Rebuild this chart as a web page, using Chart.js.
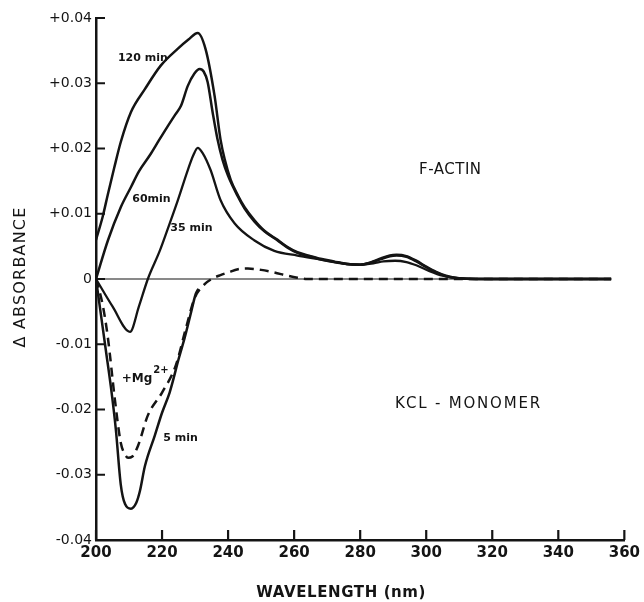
<!DOCTYPE html>
<html>
<head>
<meta charset="utf-8">
<script src="https://cdn.jsdelivr.net/npm/chart.js@4.4.0/dist/chart.umd.min.js"></script>
<style>
html,body{margin:0;padding:0;background:#fff;}
#wrap{width:644px;height:602px;}
</style>
</head>
<body>
<div id="wrap"><canvas id="c" width="644" height="602"></canvas></div>
<script>
// ---- axis ticks ----
const xTicks = [200, 220, 240, 260, 280, 300, 320, 340, 360];
const yTicks = [0.04, 0.03, 0.02, 0.01, 0, -0.01, -0.02, -0.03, -0.04];
const yTickLabels = ['+0.04', '+0.03', '+0.02', '+0.01', '0', '-0.01', '-0.02', '-0.03', '-0.04'];

// ---- 120 min ----
const wl120 = [200, 202, 203.6, 205.5, 207.5, 210.6, 214.8, 219.6, 224.8, 228, 230.8, 233.2, 235.9, 237.7, 239, 240.8, 243, 245, 248, 251, 255, 258, 261, 265, 268, 272, 276, 280, 283, 286, 289, 291, 294, 297, 300, 303, 306, 310, 315, 320, 356];
const abs120 = [0.006, 0.0095, 0.013, 0.017, 0.0210, 0.0256, 0.0291, 0.0327, 0.0353, 0.0367, 0.0377, 0.0352, 0.0281, 0.0214, 0.0183, 0.0152, 0.0128, 0.0110, 0.0090, 0.0074, 0.0060, 0.0049, 0.0041, 0.0035, 0.0031, 0.0027, 0.0023, 0.0022, 0.0025, 0.0031, 0.0036, 0.0037, 0.0035, 0.0028, 0.0019, 0.0011, 0.0005, 0.0001, 0, 0, 0];

// ---- 60 min ----
const wl60 = [200, 203.6, 207.5, 210.6, 213, 216.6, 219, 221.7, 224, 225.7, 227.8, 229.8, 231.4, 232.6, 233.8, 235.3, 236.8, 238.3, 240, 243, 245, 248, 251, 255, 258, 261, 265, 268, 272, 276, 280, 283, 286, 289, 291, 294, 297, 300, 303, 306, 310, 315, 320, 356];
const abs60 = [0, 0.0059, 0.0110, 0.0141, 0.0165, 0.0192, 0.0212, 0.0234, 0.0252, 0.0265, 0.0296, 0.0315, 0.0322, 0.0318, 0.0302, 0.0256, 0.0214, 0.0183, 0.0158, 0.0126, 0.0108, 0.0088, 0.0073, 0.0059, 0.0048, 0.0040, 0.0034, 0.0030, 0.0026, 0.0023, 0.0022, 0.0025, 0.0030, 0.0035, 0.0036, 0.0034, 0.0027, 0.0018, 0.0010, 0.0004, 0.0001, 0, 0, 0];

// ---- 35 min ----
const wl35 = [200, 205, 210.3, 213, 215.7, 219.3, 222.3, 224.8, 227.8, 229.5, 230.8, 232.3, 234.7, 237.7, 242, 248, 254, 261, 268, 276, 280, 284, 287, 290.6, 294, 297, 301, 305, 310, 320, 356];
const abs35 = [0, -0.0042, -0.0081, -0.0042, 0, 0.0043, 0.0085, 0.0121, 0.0167, 0.0190, 0.0201, 0.0193, 0.0167, 0.0121, 0.0085, 0.0059, 0.0043, 0.0036, 0.0030, 0.0023, 0.0022, 0.0024, 0.0027, 0.0028, 0.0026, 0.0021, 0.0012, 0.0005, 0.0001, 0, 0];

// ---- 5 min ----
const wl5 = [200, 201.5, 203, 204.5, 206, 207.5, 208.8, 210.6, 212.2, 213.3, 214.8, 217.8, 220, 222.3, 223.2, 225, 226.8, 228.5, 230.2, 231];
const abs5 = [0, -0.0055, -0.0110, -0.0165, -0.0230, -0.0315, -0.0345, -0.0352, -0.0343, -0.0325, -0.0287, -0.0240, -0.0205, -0.0174, -0.0158, -0.0123, -0.0091, -0.0057, -0.0023, -0.0015];

// ---- +Mg2+ (dashed) ----
const wlMg = [200, 202, 203.6, 205.7, 207.5, 208.7, 209.7, 211, 212.7, 215.7, 220, 224.2, 227.2, 229.9, 232.9, 235, 237.7, 240, 243, 246, 250, 254, 258, 261, 264, 270, 356];
const absMg = [0, -0.0039, -0.0090, -0.0184, -0.0251, -0.0268, -0.0274, -0.0272, -0.0256, -0.0209, -0.0174, -0.0132, -0.0076, -0.0029, -0.0008, 0.0, 0.0006, 0.0010, 0.0015, 0.0016, 0.0014, 0.0010, 0.0005, 0.0002, 0, 0, 0];

// ---- zero baseline ----
const wlZero = [200, 356];
const absZero = [0, 0];

const pts = (xs, ys) => xs.map((x, i) => ({x: x, y: ys[i]}));

const INK = '#141414';
const FONT = '"DejaVu Sans", sans-serif';

// axis titles
const xTitle = 'WAVELENGTH (nm)';
const yTitle = 'Δ ABSORBANCE';

// text annotations, anchored in data coordinates
const notes = [
  {text: '120 min', x: 214.2, y: 0.0339, font: 'bold 11px ' + FONT},
  {text: '60min', x: 216.8, y: 0.0123, font: 'bold 11px ' + FONT},
  {text: '35 min', x: 228.9, y: 0.0078, font: 'bold 11px ' + FONT},
  {text: '5 min', x: 225.6, y: -0.0244, font: 'bold 11px ' + FONT},
  {text: 'F-ACTIN', x: 307.3, y: 0.0167, font: '15px ' + FONT, spacing: '0.5px'},
  {text: 'KCL - MONOMER', x: 312.8, y: -0.0192, font: '15px ' + FONT, spacing: '1.8px'}
];
const mgNote = {base: '+Mg', sup: '2+', x: 207.8, y: -0.0153, supY: -0.0140};

const inwardTicks = {
  id: 'inwardTicks',
  afterDraw(chart) {
    const {ctx, chartArea: a, scales: {x, y}} = chart;
    ctx.save();
    ctx.strokeStyle = INK;
    ctx.lineWidth = 2.2;
    ctx.beginPath();
    xTicks.forEach(v => {
      const px = x.getPixelForValue(v);
      ctx.moveTo(px, a.bottom);
      ctx.lineTo(px, a.bottom - 10);
    });
    yTicks.forEach(v => {
      const py = y.getPixelForValue(v);
      ctx.moveTo(a.left, py);
      ctx.lineTo(a.left + 9, py);
    });
    ctx.stroke();
    ctx.restore();
  }
};

const textNotes = {
  id: 'textNotes',
  afterDraw(chart) {
    const {ctx, chartArea: a, scales: {x, y}} = chart;
    const hasLS = 'letterSpacing' in ctx;
    ctx.save();
    ctx.fillStyle = INK;
    ctx.textBaseline = 'middle';
    notes.forEach(n => {
      ctx.font = n.font;
      ctx.textAlign = 'center';
      if (hasLS) ctx.letterSpacing = n.spacing || '0px';
      ctx.fillText(n.text, x.getPixelForValue(n.x), y.getPixelForValue(n.y));
    });
    if (hasLS) ctx.letterSpacing = '0px';
    ctx.textAlign = 'left';
    ctx.font = 'bold 12px ' + FONT;
    const bx = x.getPixelForValue(mgNote.x);
    ctx.fillText(mgNote.base, bx, y.getPixelForValue(mgNote.y));
    const w = ctx.measureText(mgNote.base).width;
    ctx.font = 'bold 10px ' + FONT;
    ctx.fillText(mgNote.sup, bx + w + 1, y.getPixelForValue(mgNote.supY));

    // x axis title
    ctx.textAlign = 'center';
    ctx.font = 'bold 15px ' + FONT;
    if (hasLS) ctx.letterSpacing = '0.6px';
    ctx.fillText(xTitle, (a.left + a.right) / 2 - 19, a.bottom + 53);
    // y axis title
    ctx.font = '16px ' + FONT;
    if (hasLS) ctx.letterSpacing = '1.2px';
    ctx.translate(21, (a.top + a.bottom) / 2 - 2);
    ctx.rotate(-Math.PI / 2);
    ctx.fillText(yTitle, 0, 0);
    ctx.restore();
  }
};

const solid = (label, data, w) => ({
  label: label, data: data, borderColor: INK, borderWidth: w, pointRadius: 0,
  fill: false, cubicInterpolationMode: 'monotone', tension: 0.4
});

new Chart(document.getElementById('c'), {
  type: 'line',
  data: {
    datasets: [
      solid('baseline', pts(wlZero, absZero), 1.1),
      solid('120 min', pts(wl120, abs120), 2.5),
      solid('60 min', pts(wl60, abs60), 2.5),
      solid('35 min', pts(wl35, abs35), 2.3),
      solid('5 min', pts(wl5, abs5), 2.5),
      Object.assign(solid('+Mg2+', pts(wlMg, absMg), 2.5), {borderDash: [9, 6]})
    ]
  },
  options: {
    responsive: false,
    animation: false,
    devicePixelRatio: 1,
    layout: {padding: {top: 18, right: 16, left: 0, bottom: 0}},
    plugins: {legend: {display: false}, tooltip: {enabled: false}},
    scales: {
      x: {
        type: 'linear', min: 200, max: 360,
        afterBuildTicks: s => { s.ticks = xTicks.map(v => ({value: v})); },
        afterFit: s => { s.height = 62; },
        grid: {display: false, drawTicks: false},
        border: {display: true, color: INK, width: 2.5},
        ticks: {color: INK, padding: 4, maxRotation: 0, autoSkip: false,
                font: {family: FONT, size: 15, weight: 'bold'}},
        title: {display: false}
      },
      y: {
        type: 'linear', min: -0.04, max: 0.04,
        afterBuildTicks: s => { s.ticks = yTicks.map(v => ({value: v})); },
        afterFit: s => { s.width = 96; },
        grid: {display: false, drawTicks: false},
        border: {display: true, color: INK, width: 2.5},
        ticks: {color: INK, padding: 4, autoSkip: false,
                font: {family: FONT, size: 14},
                callback: (v) => { const i = yTicks.findIndex(t => Math.abs(t - v) < 1e-9); return i >= 0 ? yTickLabels[i] : ''; }},
        title: {display: false}
      }
    }
  },
  plugins: [inwardTicks, textNotes]
});
</script>
</body>
</html>
